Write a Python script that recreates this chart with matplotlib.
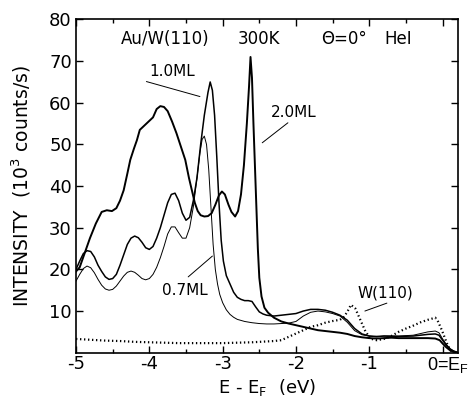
import matplotlib
matplotlib.use("Agg")
import matplotlib.pyplot as plt
import matplotlib.transforms as mtransforms
from matplotlib.ticker import MultipleLocator

plt.rcParams["font.family"] = ["DejaVu Sans"]
plt.rcParams["axes.unicode_minus"] = False

# 2.0 ML Au on W(110)
e_20 = [-5.0, -4.95, -4.88, -4.81, -4.73, -4.65, -4.58, -4.51, -4.45, -4.40, -4.35, -4.30,
        -4.26, -4.21, -4.17, -4.13, -4.07, -4.01, -3.95, -3.90, -3.85, -3.80, -3.75, -3.69,
        -3.63, -3.57, -3.51, -3.46, -3.42, -3.38, -3.34, -3.30, -3.25, -3.20, -3.15, -3.10,
        -3.05, -3.01, -2.97, -2.92, -2.88, -2.83, -2.79, -2.75, -2.71, -2.67, -2.64, -2.62,
        -2.60, -2.58, -2.56, -2.54, -2.52, -2.50, -2.47, -2.43, -2.38, -2.30, -2.20, -2.10,
        -2.00, -1.90, -1.80, -1.70, -1.60, -1.50, -1.40, -1.30, -1.20, -1.10, -1.00, -0.90,
        -0.80, -0.70, -0.60, -0.50, -0.40, -0.30, -0.20, -0.10, -0.04, 0.00, 0.05, 0.10,
        0.15, 0.20]
i_20 = [19.5, 20.5, 24.0, 27.5, 31.0, 33.8, 34.2, 34.0, 34.7, 36.5, 39.0, 43.0,
        46.3, 49.0, 51.0, 53.5, 54.5, 55.5, 56.5, 58.5, 59.2, 59.0, 58.0, 55.5,
        52.7, 49.5, 46.3, 42.0, 39.0, 36.0, 34.0, 33.0, 32.7, 32.8, 33.5, 35.5,
        37.8, 38.7, 38.0, 35.5, 33.8, 32.7, 34.0, 38.0, 45.0, 55.0, 64.0, 71.0,
        66.0, 55.0, 45.0, 35.0, 25.0, 18.0, 13.5, 10.8, 9.6, 8.4, 7.5, 7.0,
        6.6, 6.2, 5.8, 5.4, 5.2, 5.0, 4.8, 4.5, 4.0, 3.7, 3.5, 3.4,
        3.5, 3.6, 3.5, 3.5, 3.5, 3.5, 3.5, 3.4, 3.0, 2.2, 1.3, 0.6,
        0.2, 0.0]

# 1.0 ML
e_10 = [-5.0, -4.95, -4.9, -4.85, -4.8, -4.75, -4.7, -4.65, -4.6, -4.55, -4.5, -4.45,
        -4.4, -4.35, -4.3, -4.25, -4.2, -4.15, -4.1, -4.05, -4.0, -3.95, -3.9, -3.85,
        -3.8, -3.75, -3.7, -3.65, -3.6, -3.55, -3.5, -3.45, -3.4, -3.35, -3.3, -3.25,
        -3.2, -3.17, -3.14, -3.11, -3.08, -3.05, -3.02, -2.99, -2.95, -2.9, -2.85, -2.8,
        -2.75, -2.7, -2.65, -2.6, -2.55, -2.5, -2.45, -2.4, -2.3, -2.2, -2.1, -2.0,
        -1.9, -1.8, -1.7, -1.6, -1.5, -1.4, -1.3, -1.2, -1.1, -1.0, -0.9, -0.8,
        -0.6, -0.4, -0.3, -0.2, -0.1, -0.05, 0.0, 0.05, 0.1, 0.15, 0.2]
i_10 = [20.0, 22.0, 23.8, 24.5, 24.3, 23.0, 21.0, 19.5, 18.2, 17.6, 17.8, 18.8,
        21.0, 23.5, 26.0, 27.5, 28.0, 27.6, 26.5, 25.2, 24.8, 25.5, 27.5, 30.0,
        33.0, 36.0, 38.0, 38.3, 36.5, 33.5, 31.8, 32.5, 36.5, 42.0, 50.0, 57.0,
        62.5, 65.0, 63.0, 57.0, 47.0, 36.0, 27.0, 22.0, 18.5, 16.5, 14.5, 13.3,
        12.8, 12.5, 12.5, 12.3, 11.0, 9.8, 9.3, 9.0, 8.8, 9.0, 9.2, 9.4,
        10.0, 10.4, 10.4, 10.2, 9.7, 9.0, 7.8, 5.8, 4.5, 4.0, 3.9, 4.0,
        3.9, 4.0, 4.2, 4.4, 4.5, 4.2, 3.0, 1.8, 0.9, 0.4, 0.1]

# 0.7 ML
e_07 = [-5.0, -4.95, -4.9, -4.85, -4.8, -4.75, -4.7, -4.65, -4.6, -4.55, -4.5, -4.45,
        -4.4, -4.35, -4.3, -4.25, -4.2, -4.15, -4.1, -4.05, -4.0, -3.95, -3.9, -3.85,
        -3.8, -3.75, -3.7, -3.65, -3.6, -3.55, -3.5, -3.45, -3.4, -3.35, -3.31, -3.28,
        -3.25, -3.22, -3.19, -3.16, -3.13, -3.1, -3.07, -3.04, -3.0, -2.95, -2.9, -2.85,
        -2.8, -2.7, -2.6, -2.5, -2.4, -2.3, -2.2, -2.1, -2.0, -1.9, -1.8, -1.7,
        -1.6, -1.5, -1.4, -1.3, -1.2, -1.1, -1.0, -0.9, -0.8, -0.6, -0.4, -0.3,
        -0.2, -0.1, -0.05, 0.0, 0.05, 0.1, 0.15, 0.2]
i_07 = [17.2, 18.8, 20.2, 20.8, 20.4, 19.2, 17.6, 16.2, 15.3, 15.0, 15.2, 16.0,
        17.2, 18.4, 19.3, 19.6, 19.3, 18.6, 17.8, 17.5, 17.8, 18.8, 20.5, 22.8,
        25.5, 28.5, 30.2, 30.2, 28.8, 27.5, 27.5, 30.0, 35.0, 42.0, 48.0, 51.2,
        52.0, 50.0, 44.0, 35.0, 26.0, 20.0, 16.5, 14.0, 12.0, 10.3, 9.2, 8.5,
        8.0, 7.5, 7.2, 7.0, 6.9, 6.9, 7.0, 7.1, 7.5, 8.8, 9.7, 10.0,
        9.8, 9.4, 8.8, 7.3, 5.3, 4.3, 4.0, 3.8, 4.0, 4.0, 4.2, 4.6,
        5.0, 5.2, 4.8, 3.3, 2.0, 1.0, 0.4, 0.1]

# clean W(110)
e_w = [-5.0, -4.8, -4.6, -4.4, -4.2, -4.0, -3.8, -3.6, -3.4, -3.2, -3.0, -2.8,
       -2.6, -2.4, -2.3, -2.2, -2.1, -2.0, -1.9, -1.8, -1.7, -1.6, -1.5, -1.4,
       -1.35, -1.3, -1.25, -1.19, -1.12, -1.06, -0.99, -0.9, -0.8, -0.7, -0.6, -0.5,
       -0.4, -0.3, -0.2, -0.1, -0.06, -0.01, 0.06, 0.11, 0.16, 0.2]
i_w = [3.3, 3.1, 2.9, 2.8, 2.6, 2.5, 2.4, 2.3, 2.3, 2.3, 2.3, 2.4,
       2.5, 2.7, 2.8, 3.0, 3.8, 4.6, 5.4, 6.2, 6.6, 7.2, 7.6, 7.9,
       8.5, 9.8, 11.5, 10.6, 7.8, 5.4, 3.4, 3.0, 3.3, 4.0, 5.0, 5.8,
       6.5, 7.3, 7.9, 8.4, 7.4, 5.4, 2.2, 0.5, 0.1, 0.0]

x_ticks = [-5, -4, -3, -2, -1, 0]
x_ticklabels = ["-5", "-4", "-3", "-2", "-1", ""]
fermi_label = "0=E$_\\mathregular{F}$"
y_ticks = [10, 20, 30, 40, 50, 60, 70, 80]

fig = plt.figure(figsize=(4.71, 3.97), dpi=100)
ax = fig.add_axes([0.1614, 0.1116, 0.811, 0.8393])

ax.plot(e_20, i_20, color="black", lw=1.4)
ax.plot(e_10, i_10, color="black", lw=1.1)
ax.plot(e_07, i_07, color="black", lw=0.7)
ax.plot(e_w, i_w, color="black", lw=1.6, linestyle=(0, (0.6, 1.2)))

ax.set_xlim(-5, 0.21)
ax.set_ylim(0, 80)
ax.set_xticks(x_ticks)
ax.set_xticklabels(x_ticklabels)
ax.xaxis.set_minor_locator(MultipleLocator(0.5))
ax.set_yticks(y_ticks)
ax.tick_params(which="both", direction="in", top=True, right=True, width=1.0)
ax.tick_params(which="major", length=5)
ax.tick_params(which="minor", length=3)
ax.tick_params(axis="x", labelsize=13, pad=2)
ax.tick_params(axis="y", labelsize=13, pad=3)
for s in ax.spines.values():
    s.set_linewidth(1.2)

# the Fermi-level label runs out past the right spine, ending at the figure edge
trans = ax.transAxes + mtransforms.ScaledTranslation(0.105, -0.028, fig.dpi_scale_trans)
ax.text(1.0, 0, fermi_label, transform=trans, ha="right", va="top", fontsize=13,
        family=["Liberation Sans", "DejaVu Sans"], clip_on=False)

ax.set_xlabel("E - E$_\\mathregular{F}$  (eV)", fontsize=13)
ax.xaxis.set_label_coords(0.5, -0.072)
ax.set_ylabel("INTENSITY  (10$^\\mathregular{3}$ counts/s)", fontsize=13.5)
ax.yaxis.set_label_coords(-0.113, 0.5)

ax.text(-3.79, 75.3, "Au/W(110)", fontsize=12, ha="center", va="center")
ax.text(-2.51, 75.3, "300K", fontsize=12, ha="center", va="center")
ax.text(-1.35, 75.3, "\u0398=0\u00b0", fontsize=12, ha="center", va="center")
ax.text(-0.61, 75.3, "HeI", fontsize=12, ha="center", va="center")

leader = dict(arrowstyle="-", lw=0.7, color="black", shrinkA=0, shrinkB=0)
ax.text(-3.69, 67.4, "1.0ML", fontsize=11, ha="center", va="center")
ax.annotate("", xy=(-3.31, 61.5), xytext=(-4.04, 65.1), arrowprops=leader)
ax.text(-2.03, 57.6, "2.0ML", fontsize=11, ha="center", va="center")
ax.annotate("", xy=(-2.46, 50.4), xytext=(-2.11, 55.2), arrowprops=leader)
ax.text(-3.51, 15.0, "0.7ML", fontsize=11, ha="center", va="center")
ax.annotate("", xy=(-3.14, 23.2), xytext=(-3.47, 18.2), arrowprops=leader)
ax.text(-0.78, 14.3, "W(110)", fontsize=11, ha="center", va="center")
ax.annotate("", xy=(-1.06, 10.0), xytext=(-0.76, 11.9), arrowprops=leader)

fig.savefig("out.png", dpi=100)
